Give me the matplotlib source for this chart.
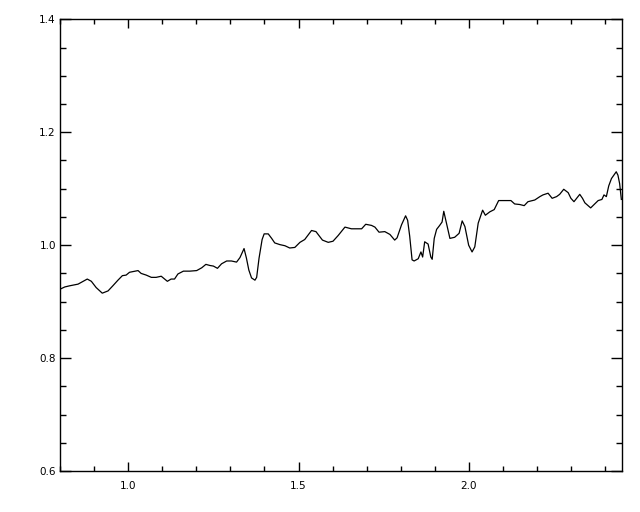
import numpy as np
import matplotlib
matplotlib.use("Agg")
import matplotlib.pyplot as plt
from matplotlib.ticker import MultipleLocator, FormatStrFormatter

# spectrum
wave = [0.800, 0.814, 0.828, 0.853, 0.862, 0.880, 0.892, 0.906, 0.924, 0.941,
        0.955, 0.970, 0.983, 0.994, 1.004, 1.029, 1.038, 1.053, 1.068, 1.082,
        1.097, 1.105, 1.115, 1.126, 1.136, 1.146, 1.162, 1.181, 1.201, 1.216,
        1.228, 1.240, 1.250, 1.262, 1.274, 1.289, 1.303, 1.318, 1.328, 1.340,
        1.347, 1.354, 1.362, 1.372, 1.377, 1.384, 1.393, 1.399, 1.411, 1.421,
        1.430, 1.445, 1.460, 1.474, 1.489, 1.504, 1.518, 1.538, 1.551, 1.570,
        1.587, 1.601, 1.616, 1.636, 1.655, 1.685, 1.697, 1.714, 1.724, 1.736,
        1.753, 1.768, 1.782, 1.789, 1.802, 1.814, 1.820, 1.826, 1.833, 1.839,
        1.851, 1.859, 1.864, 1.870, 1.880, 1.888, 1.892, 1.898, 1.905, 1.914,
        1.921, 1.926, 1.934, 1.944, 1.958, 1.971, 1.980, 1.988, 1.999, 2.009,
        2.017, 2.027, 2.040, 2.048, 2.061, 2.074, 2.087, 2.105, 2.123, 2.134,
        2.149, 2.162, 2.173, 2.193, 2.208, 2.217, 2.232, 2.244, 2.257, 2.266,
        2.278, 2.291, 2.299, 2.308, 2.325, 2.333, 2.340, 2.357, 2.369, 2.379,
        2.390, 2.396, 2.403, 2.410, 2.418, 2.432, 2.437, 2.442, 2.447]
flux = [0.922, 0.926, 0.928, 0.931, 0.934, 0.940, 0.936, 0.925, 0.915, 0.919,
        0.928, 0.938, 0.946, 0.947, 0.952, 0.955, 0.950, 0.947, 0.943, 0.943,
        0.945, 0.941, 0.936, 0.940, 0.940, 0.949, 0.954, 0.954, 0.955, 0.960,
        0.966, 0.964, 0.963, 0.959, 0.967, 0.972, 0.972, 0.970, 0.978, 0.994,
        0.977, 0.956, 0.942, 0.938, 0.943, 0.977, 1.010, 1.020, 1.020, 1.012,
        1.004, 1.001, 0.999, 0.995, 0.996, 1.005, 1.010, 1.026, 1.024, 1.009,
        1.005, 1.007, 1.017, 1.032, 1.029, 1.029, 1.037, 1.035, 1.032, 1.023,
        1.024, 1.019, 1.009, 1.013, 1.036, 1.052, 1.044, 1.016, 0.974, 0.972,
        0.976, 0.988, 0.979, 1.006, 1.002, 0.979, 0.975, 1.012, 1.028, 1.035,
        1.041, 1.060, 1.039, 1.012, 1.014, 1.021, 1.043, 1.033, 1.000, 0.988,
        0.997, 1.039, 1.062, 1.053, 1.059, 1.063, 1.079, 1.079, 1.079, 1.073,
        1.072, 1.070, 1.077, 1.080, 1.086, 1.089, 1.092, 1.083, 1.086, 1.090,
        1.099, 1.093, 1.083, 1.077, 1.090, 1.083, 1.075, 1.066, 1.073, 1.079,
        1.081, 1.089, 1.086, 1.105, 1.118, 1.130, 1.124, 1.109, 1.081]

fig = plt.figure(figsize=(6.4, 5.12), dpi=100)
ax = fig.add_axes([0.09375, 0.080, 0.8787, 0.8823])
ax.plot(wave, flux, color="black", lw=0.9)

ax.set_xlim(0.8, 2.45)
ax.set_ylim(0.6, 1.4)
ax.xaxis.set_major_locator(MultipleLocator(0.5))
ax.xaxis.set_minor_locator(MultipleLocator(0.1))
ax.yaxis.set_major_locator(MultipleLocator(0.2))
ax.yaxis.set_minor_locator(MultipleLocator(0.05))
ax.xaxis.set_major_formatter(FormatStrFormatter("%.1f"))
ax.yaxis.set_major_formatter(FormatStrFormatter("%.1f"))

for s in ax.spines.values():
    s.set_linewidth(1.0)
ax.tick_params(axis="both", which="both", direction="in", top=True, right=True,
               width=1.0, labelsize=7.5, colors="black")
ax.tick_params(axis="x", which="major", length=6.5, pad=7)
ax.tick_params(axis="x", which="minor", length=3.6)
ax.tick_params(axis="y", which="major", length=8, pad=3)
ax.tick_params(axis="y", which="minor", length=4.3)

fig.savefig("out.png", dpi=100)
